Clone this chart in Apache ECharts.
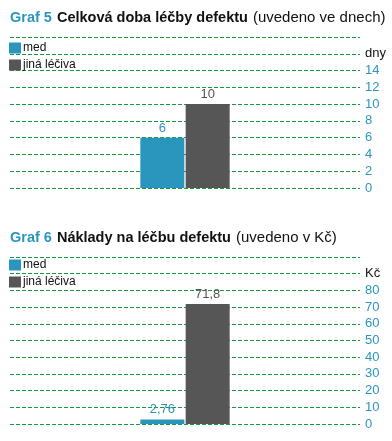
<!DOCTYPE html>
<html><head><meta charset="utf-8">
<script src="https://cdn.jsdelivr.net/npm/echarts@6/dist/echarts.min.js"></script>
<style>html,body{margin:0;padding:0;background:#fff;}#c1{position:absolute;left:0;top:0;width:392px;height:215px;}#c2{position:absolute;left:0;top:215px;width:392px;height:226px;}</style>
</head><body><div id="c1"></div><div id="c2"></div>
<script>
const categories = ['defekt'];
const seriesNames = ['med', 'jiná léčiva'];
const medDays = [6];
const otherDays = [10];
const medCost = [2.76];
const otherCost = [71.8];
const daysUnit = 'dny';
const costUnit = 'Kč';
const title1 = ['Graf 5', 'Celková doba léčby defektu', '(uvedeno ve dnech)'];
const title2 = ['Graf 6', 'Náklady na léčbu defektu', '(uvedeno v Kč)'];

const BLUE = '#2b96bd', GREY = '#565656', GREEN = '#17993f';
const FONT = 'Liberation Sans';

function makeOption(t, medData, otherData, max, interval, unit, gridTop, gridBottom, titleTop, legendTop) {
  const fmt = v => String(v).replace('.', ',');
  return {
    animation: false,
    textStyle: { fontFamily: FONT },
    title: {
      left: 10, top: titleTop, padding: 0,
      text: '{a|' + t[0] + '} {b|' + t[1] + '} {c|' + t[2] + '}',
      textStyle: { rich: {
        a: { color: BLUE, fontWeight: 'bold', fontSize: 14.5, lineHeight: 18, verticalAlign: 'bottom', fontFamily: FONT },
        b: { color: '#111', fontWeight: 'bold', fontSize: 14.5, lineHeight: 18, verticalAlign: 'bottom', fontFamily: FONT },
        c: { color: '#111', fontWeight: 'normal', fontSize: 15, lineHeight: 18, verticalAlign: 'bottom', fontFamily: FONT }
      } }
    },
    legend: {
      orient: 'vertical', left: 9, top: legendTop, padding: 0,
      itemWidth: 12, itemHeight: 11, itemGap: 5,
      icon: 'rect',
      textStyle: { color: '#111', fontSize: 12, fontFamily: FONT, padding: [0, 0, 0, -3] },
      data: seriesNames
    },
    grid: { left: 10, right: 32, top: gridTop, bottom: gridBottom },
    xAxis: {
      type: 'category', data: categories,
      axisLine: { show: false }, axisTick: { show: false }, axisLabel: { show: false }
    },
    yAxis: {
      type: 'value', position: 'right', min: 0, max: max, interval: interval,
      axisLine: { show: false }, axisTick: { show: false },
      splitLine: { lineStyle: { color: GREEN, type: [4, 2], width: 1 } },
      axisLabel: {
        margin: 5, fontSize: 13, fontFamily: FONT,
        formatter: v => v === max ? '' : (v === max - interval ? '{u|' + unit + '}' : String(v)),
        color: BLUE,
        rich: { u: { color: '#111', fontSize: 13, fontFamily: FONT } }
      }
    },
    series: [
      { name: seriesNames[0], type: 'bar', data: medData, barWidth: 44, barGap: '3%',
        itemStyle: { color: BLUE },
        label: { show: true, position: 'top', distance: 3, color: BLUE, fontSize: 13, fontFamily: FONT, formatter: p => fmt(p.value) } },
      { name: seriesNames[1], type: 'bar', data: otherData, barWidth: 44, barGap: '3%',
        itemStyle: { color: GREY },
        label: { show: true, position: 'top', distance: 3, color: GREY, fontSize: 13, fontFamily: FONT, formatter: p => fmt(p.value) } }
    ]
  };
}

echarts.init(document.getElementById('c1')).setOption(makeOption(title1, medDays, otherDays, 18, 2, daysUnit, 37, 27, 7, 42));
echarts.init(document.getElementById('c2')).setOption(makeOption(title2, medCost, otherCost, 100, 10, costUnit, 42, 17, 12, 44));
</script></body></html>
